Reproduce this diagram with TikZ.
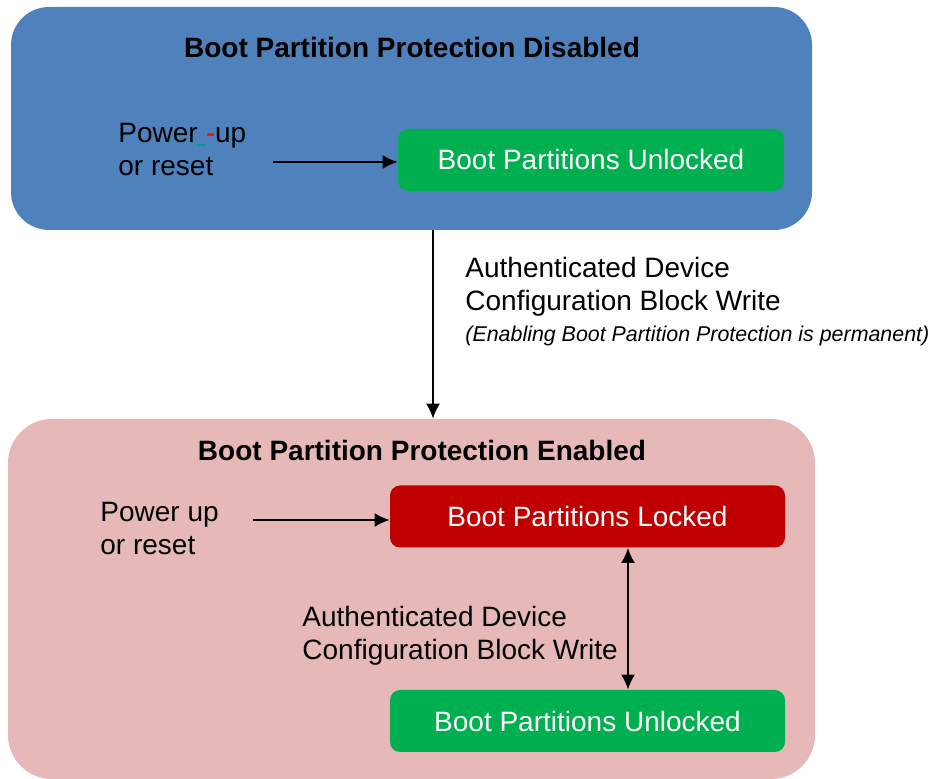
\documentclass[tikz,border=0pt]{standalone}
\usepackage{fontspec}
\setmainfont{Liberation Sans}
\usetikzlibrary{arrows.meta,positioning,calc}
\definecolor{Ink}{HTML}{000000}
\definecolor{ZoneBlue}{HTML}{4F81BD}
\definecolor{ZonePink}{HTML}{E6B9B8}
\definecolor{StateGreen}{HTML}{00B050}
\definecolor{StateRed}{HTML}{C00000}
\definecolor{RevTeal}{HTML}{00A090}
\definecolor{RevRed}{HTML}{FF0000}
\tikzset{
  zone/.style={rounded corners=19pt,inner sep=0pt},
  zoneblue/.style={zone,fill=ZoneBlue,minimum width=400.5pt,minimum height=111.5pt},
  zonepink/.style={zone,fill=ZonePink,minimum width=403.5pt,minimum height=180pt,rounded corners=22pt},
  state/.style={rounded corners=5pt,minimum height=31pt,inner sep=0pt,text=white,font=\fontsize{14}{16.5}\selectfont},
  stategreen/.style={state,fill=StateGreen},
  statered/.style={state,fill=StateRed},
  title/.style={font=\bfseries\fontsize{14}{16.5}\selectfont,text=Ink,inner sep=0pt},
  txt/.style={align=left,font=\fontsize{14}{16.5}\selectfont,text=Ink,inner sep=0pt},
  note/.style={align=left,font=\itshape\fontsize{10.7}{12.5}\selectfont,text=Ink,inner sep=0pt},
  arrow/.style={-{Latex[length=7.5pt,width=7pt]},line width=1pt,draw=Ink},
  thinArrow/.style={-{Latex[length=7.5pt,width=7pt]},line width=0.8pt,draw=Ink},
  dblArrow/.style={{Latex[length=7.5pt,width=7pt]}-{Latex[length=7.5pt,width=7pt]},line width=0.8pt,draw=Ink}
}

\begin{document}
\begin{tikzpicture}[x=0.5pt,y=-0.5pt]
\useasboundingbox (0,0) rectangle (932,779);
% zones
\node[zoneblue] (dis) at (411.5,118.5) {};
\node[zonepink] (en) at (411.5,599) {};
\node[title] (disT) at (412,48) {Boot Partition Protection Disabled};
\node[title] (enT) at (422,450) {Boot Partition Protection Enabled};
% states
\node[stategreen,minimum width=193pt] (unl) at (591,160) {Boot Partitions Unlocked};
\node[statered,minimum width=197.5pt] (lk) at (587.5,516.5) {Boot Partitions Locked};
\node[stategreen,minimum width=197.5pt] (unl2) at (587.5,721) {Boot Partitions Unlocked};
% texts
\node[txt,anchor=west] (pwr) at (118,150) {Power\textcolor{RevTeal}{\rule[-1.5pt]{4pt}{0.9pt}}\textcolor{RevRed}{-}up\\or reset};
\node[txt,anchor=west] (pwr2) at (100,529) {Power up\\or reset};
\node[txt,anchor=west] (aut) at (465,287) {Authenticated Device\\Configuration Block Write};
\node[note,below=4.5pt of aut.south west,anchor=north west] (perm) {(Enabling Boot Partition Protection is permanent)};
\node[txt,anchor=west] (aut2) at (302,636) {Authenticated Device\\Configuration Block Write};
% connectors
\coordinate (p1) at (273,162);
\coordinate (p2) at (253,520);
\coordinate (v) at (433,230);
\coordinate (d) at (628,548);
\draw[arrow] (p1)--(p1 -| unl.west);\draw[arrow] (p2)--(p2 -| lk.west);
\draw[thinArrow] (v)--(v |- en.north);
\draw[dblArrow] (d)--(d |- unl2.north);
\end{tikzpicture}
\end{document}
